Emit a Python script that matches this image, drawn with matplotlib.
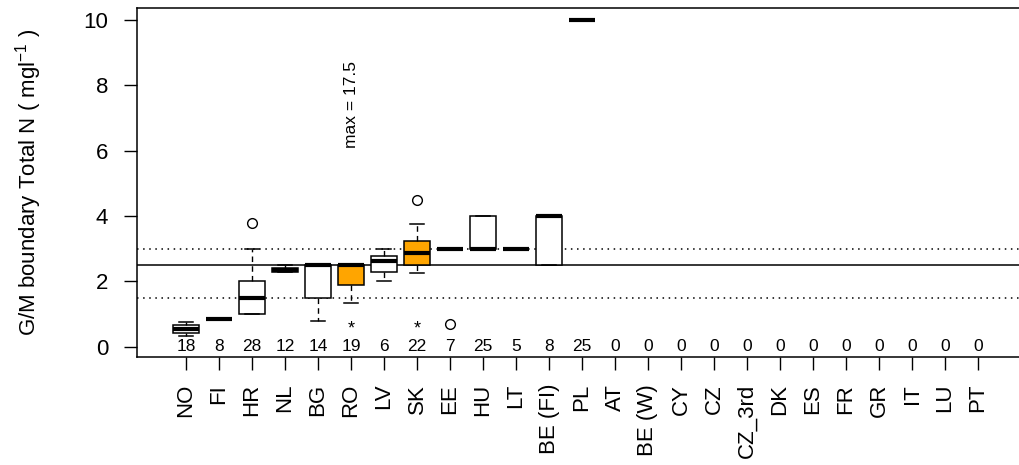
import matplotlib
matplotlib.use("Agg")
import matplotlib.pyplot as plt

plt.rcParams['font.family'] = ['Liberation Sans', 'DejaVu Sans']
plt.rcParams['mathtext.fontset'] = 'custom'
plt.rcParams['mathtext.rm'] = 'Liberation Sans'
plt.rcParams['mathtext.it'] = 'Liberation Sans'

categories = ["NO", "FI", "HR", "NL", "BG", "RO", "LV", "SK", "EE", "HU", "LT",
              "BE (FI)", "PL", "AT", "BE (W)", "CY", "CZ", "CZ_3rd", "DK", "ES",
              "FR", "GR", "IT", "LU", "PT"]
n_obs = [18, 8, 28, 12, 14, 19, 6, 22, 7, 25, 5, 8, 25,
         0, 0, 0, 0, 0, 0, 0, 0, 0, 0, 0, 0]

# box statistics for the countries that reported boundaries
med    = [0.54, 0.85, 1.5, 2.35, 2.5, 2.5, 2.63, 2.88, 3.0, 3.0, 3.0, 4.0, 10.0]
q1     = [0.42, 0.85, 1.0, 2.28, 1.5, 1.9, 2.3, 2.5, 3.0, 3.0, 3.0, 2.5, 10.0]
q3     = [0.67, 0.85, 2.0, 2.4, 2.5, 2.5, 2.78, 3.23, 3.0, 4.0, 3.0, 4.0, 10.0]
whislo = [0.32, 0.85, 1.0, 2.28, 0.8, 1.35, 2.0, 2.27, 3.0, 3.0, 3.0, 2.5, 10.0]
whishi = [0.77, 0.85, 3.0, 2.5, 2.5, 2.5, 3.0, 3.75, 3.0, 4.0, 3.0, 4.0, 10.0]
outliers = {"HR": [3.8], "SK": [4.5], "EE": [0.7]}
highlight = ["RO", "SK"]
starred = ["RO", "SK"]

ref_line = 2.5
ref_band = [1.5, 3.0]
max_note = ("RO", 17.5)

fig = plt.figure(figsize=(10.19, 4.65), dpi=100)
ax = fig.add_axes([136.5 / 1019, 1 - 356.7 / 465, 891 / 1019, 348.7 / 465])

stats = []
for i in range(len(med)):
    name = categories[i]
    stats.append(dict(med=med[i], q1=q1[i], q3=q3[i], whislo=whislo[i],
                      whishi=whishi[i], fliers=outliers.get(name, []), label=name))
positions = list(range(1, len(med) + 1))

bp = ax.bxp(stats, positions=positions, widths=0.8, capwidths=0.4,
            patch_artist=True, manage_ticks=False,
            boxprops=dict(edgecolor='black', linewidth=1.1),
            medianprops=dict(color='black', linewidth=3.0, solid_capstyle='butt'),
            whiskerprops=dict(color='black', linewidth=1.0, linestyle=(0, (4, 3))),
            capprops=dict(color='black', linewidth=1.1),
            flierprops=dict(marker='o', markerfacecolor='none', markeredgecolor='black',
                            markersize=7, markeredgewidth=1.0))
for patch, s in zip(bp['boxes'], stats):
    patch.set_facecolor('orange' if s['label'] in highlight else 'white')
    patch.set_zorder(2)

ax.axhline(ref_line, color='black', linewidth=1.1, zorder=1)
for y in ref_band:
    ax.axhline(y, color='black', linewidth=1.1, linestyle=(0, (1, 3)), zorder=1)

# number of water bodies per country
for i, n in enumerate(n_obs):
    ax.text(i + 1, 0.0, str(n), ha='center', va='center', fontsize=12.5, zorder=5)

for name in starred:
    ax.text(categories.index(name) + 1, 0.55, "*", ha='center', va='center',
            fontsize=13, zorder=5)

ax.text(categories.index(max_note[0]) + 1, 7.41, "max = %g" % max_note[1],
        rotation=90, ha='center', va='center', fontsize=12.5)

ax.set_xlim(-0.5, 26.5)
ax.set_ylim(-0.306, 10.37)
ax.set_xticks(range(1, len(categories) + 1))
ax.set_xticklabels(categories, rotation=90, fontsize=16)
ax.set_yticks([0, 2, 4, 6, 8, 10])
ax.tick_params(axis='y', labelsize=16, length=9.5, width=1.0, pad=11)
ax.tick_params(axis='x', length=9.5, width=1.0, pad=10)
ax.spines['right'].set_visible(False)
for sp in ['left', 'top', 'bottom']:
    ax.spines[sp].set_linewidth(1.1)

ax.set_ylabel("G/M boundary Total N ( mgl$^{-1}$ )", fontsize=16)
ax.yaxis.set_label_coords(-0.104, 0.5)

fig.savefig("out.png", dpi=100)
